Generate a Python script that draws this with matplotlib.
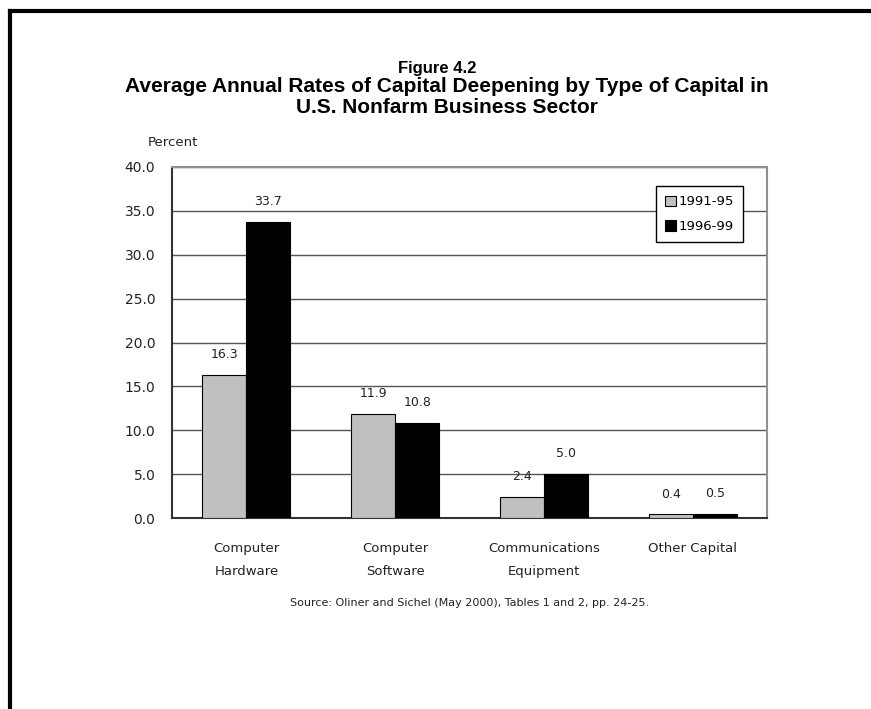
import matplotlib
matplotlib.use('Agg')
import matplotlib.pyplot as plt
import numpy as np

categories = ['Computer\nHardware', 'Computer\nSoftware', 'Communications\nEquipment', 'Other Capital']
series_names = ['1991-95', '1996-99']
values_9195 = [16.3, 11.9, 2.4, 0.4]
values_9699 = [33.7, 10.8, 5.0, 0.5]
colors = ['#C0C0C0', '#000000']
y_ticks = [0, 5, 10, 15, 20, 25, 30, 35, 40]

fig = plt.figure(figsize=(8.71, 7.09), dpi=100)
ax = fig.add_axes([172 / 871, 1 - 518 / 709, 595 / 871, 351 / 709])

# frame around the page (top and left only)
fig.add_artist(plt.Line2D([9.5 / 871, 1.0], [1 - 10.5 / 709, 1 - 10.5 / 709], color='black', lw=3))
fig.add_artist(plt.Line2D([9.5 / 871, 9.5 / 871], [0, 1 - 10.5 / 709], color='black', lw=3))

x = np.arange(len(categories))
w = 0.296
b1 = ax.bar(x - w / 2, values_9195, w, color=colors[0], edgecolor='black', linewidth=0.8, label=series_names[0], zorder=3)
b2 = ax.bar(x + w / 2, values_9699, w, color=colors[1], edgecolor='black', linewidth=0.8, label=series_names[1], zorder=3)

for bars, vals in ((b1, values_9195), (b2, values_9699)):
    for r, v in zip(bars, vals):
        ax.annotate(f'{v:.1f}', (r.get_x() + r.get_width() / 2, v), xytext=(0, 10),
                    textcoords='offset points', ha='center', va='bottom', fontsize=9, color='#222222')

ax.set_xlim(-0.5, len(categories) - 0.5)
ax.set_ylim(0, 40)
ax.set_yticks(y_ticks)
ax.set_yticklabels([f'{t:.1f}' for t in y_ticks], fontsize=10, color='#222222')
ax.set_xticks(x)
ax.set_xticklabels(categories, fontsize=9.5, color='#222222', linespacing=2.05, va='top')
ax.tick_params(axis='both', length=0)
ax.tick_params(axis='y', pad=12)
ax.tick_params(axis='x', pad=17)
ax.grid(axis='y', color='#555555', lw=1, zorder=0)
for side in ('top', 'right'):
    ax.spines[side].set_color('#909090')
    ax.spines[side].set_linewidth(1.5)
for side in ('left', 'bottom'):
    ax.spines[side].set_color('#333333')
    ax.spines[side].set_linewidth(1.5)

leg = ax.legend(loc='upper right', bbox_to_anchor=(0.96, 0.946), borderaxespad=0, fontsize=9.5, frameon=True,
                fancybox=False, edgecolor='black', handlelength=0.8, handleheight=0.8, handletextpad=0.2,
                borderpad=0.7, labelspacing=0.9)
leg.get_frame().set_linewidth(1)
leg.get_frame().set_alpha(1)

fig.text(437 / 871, 1 - 69 / 709, 'Figure 4.2', ha='center', va='center', fontsize=12, fontweight='bold',
         family='Liberation Sans')
fig.text(447 / 871, 1 - 97 / 709,
         'Average Annual Rates of Capital Deepening by Type of Capital in\nU.S. Nonfarm Business Sector',
         ha='center', va='center', fontsize=15, fontweight='bold', family='Liberation Sans', linespacing=1.07)
fig.text(148 / 871, 1 - 142 / 709, 'Percent', ha='left', va='center', fontsize=9.5, color='#222222')
fig.text(470 / 871, 1 - 603 / 709,
         'Source: Oliner and Sichel (May 2000), Tables 1 and 2, pp. 24-25.',
         ha='center', va='center', fontsize=8, color='#222222')

fig.savefig('out.png', dpi=100)
